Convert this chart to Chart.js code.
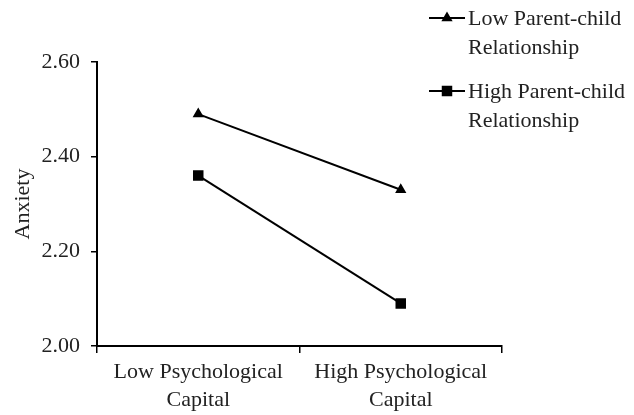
<!DOCTYPE html>
<html>
<head>
<meta charset="utf-8">
<script src="https://cdn.jsdelivr.net/npm/chart.js@4"></script>
<style>
  html, body { margin: 0; padding: 0; background: #fff; }
  #wrap { width: 634px; height: 415px; }
</style>
</head>
<body>
<div id="wrap"><canvas id="chart"></canvas></div>
<script>
const categories = [['Low Psychological', 'Capital'], ['High Psychological', 'Capital']];
const seriesNames = [['Low Parent-child', 'Relationship'], ['High Parent-child', 'Relationship']];
const lowPCR = [2.49, 2.33];
const highPCR = [2.36, 2.09];
const yTicks = [2.00, 2.20, 2.40, 2.60];

const FONT = '"Liberation Serif", "Times New Roman", serif';
const SIZE = 22;

// legend drawn at top right, two lines per entry
const sideLegend = {
  id: 'sideLegend',
  afterDraw(chart) {
    const ctx = chart.ctx;
    const rows = [18, 91];
    ctx.save();
    chart.data.datasets.forEach((ds, i) => {
      const y = rows[i];
      ctx.strokeStyle = '#000';
      ctx.lineWidth = 2;
      ctx.beginPath();
      ctx.moveTo(429, y);
      ctx.lineTo(465, y);
      ctx.stroke();
      ctx.fillStyle = '#000';
      Chart.helpers.drawPoint(ctx, {
        pointStyle: ds.pointStyle, radius: ds.pointRadius, borderWidth: 1
      }, 447, y);
      ctx.fillStyle = '#222';
      ctx.font = SIZE + 'px ' + FONT;
      ctx.textBaseline = 'middle';
      ctx.textAlign = 'left';
      ds.label.forEach((t, j) => ctx.fillText(t, 468, y + 1 + j * 29));
    });
    ctx.restore();
  }
};

new Chart(document.getElementById('chart'), {
  type: 'line',
  data: {
    labels: categories,
    datasets: [
      {
        label: seriesNames[0],
        data: lowPCR,
        borderColor: '#000',
        backgroundColor: '#000',
        borderWidth: 2,
        pointStyle: 'triangle',
        pointRadius: 4.5,
        fill: false
      },
      {
        label: seriesNames[1],
        data: highPCR,
        borderColor: '#000',
        backgroundColor: '#000',
        borderWidth: 2,
        pointStyle: 'rect',
        pointRadius: 6,
        fill: false
      }
    ]
  },
  options: {
    responsive: true,
    maintainAspectRatio: false,
    animation: false,
    layout: { padding: { top: 62, right: 132, left: 0, bottom: 0 } },
    plugins: {
      legend: { display: false },
      tooltip: { enabled: false }
    },
    scales: {
      x: {
        offset: true,
        grid: { offset: true, drawOnChartArea: false, drawTicks: true, tickLength: 7, color: '#000', lineWidth: 1.5 },
        border: { color: '#000', width: 2 },
        ticks: { color: '#222', font: { family: FONT, size: SIZE, lineHeight: 1.27 }, padding: 5, maxRotation: 0 },
        afterFit(scale) { scale.height = 69; }
      },
      y: {
        min: 2.0,
        max: 2.6,
        afterBuildTicks(scale) { scale.ticks = yTicks.map(v => ({ value: v })); },
        grid: { drawOnChartArea: false, drawTicks: true, tickLength: 6, color: '#000', lineWidth: 1.5 },
        border: { color: '#000', width: 2 },
        ticks: {
          color: '#222', font: { family: FONT, size: SIZE }, padding: 11,
          callback: v => v.toFixed(2)
        },
        title: { display: true, text: 'Anxiety', color: '#222', font: { family: FONT, size: SIZE }, padding: { top: 10, bottom: 0 } },
        afterFit(scale) { scale.width = 97; }
      }
    }
  },
  plugins: [sideLegend]
});
</script>
</body>
</html>
